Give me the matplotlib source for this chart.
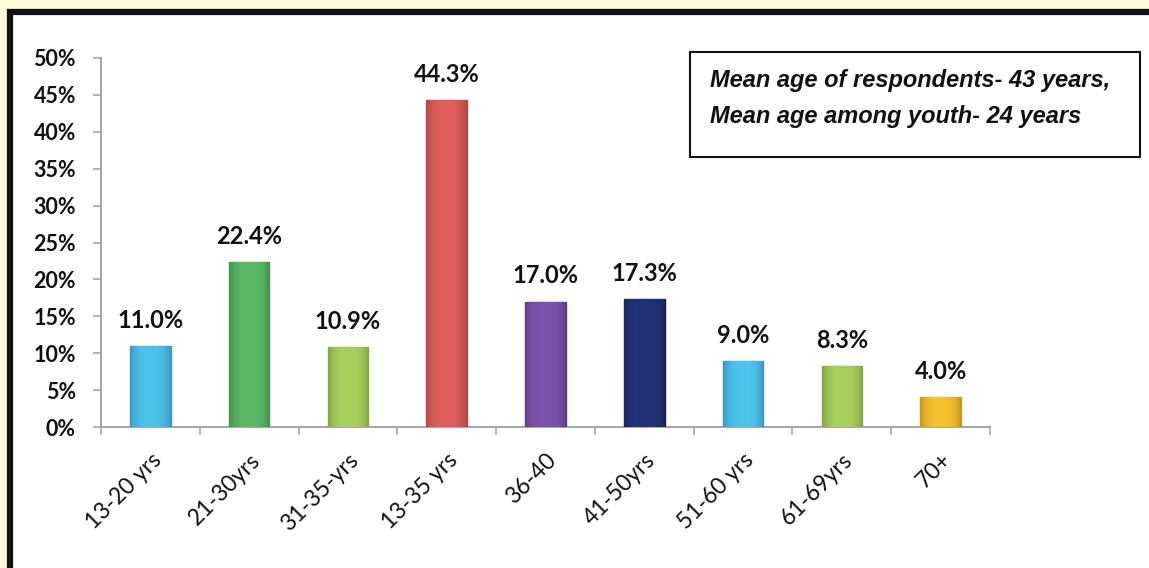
import matplotlib
matplotlib.use("Agg")
import matplotlib.pyplot as plt
from matplotlib.patches import Rectangle
from matplotlib.colors import to_rgb
import numpy as np

categories = ["13-20 yrs", "21-30yrs", "31-35-yrs", "13-35 yrs", "36-40",
              "41-50yrs", "51-60 yrs", "61-69yrs", "70+"]
values = [11.0, 22.4, 10.9, 44.3, 17.0, 17.3, 9.0, 8.3, 4.0]
colors = ["#4EC3EE", "#5BB865", "#A8D15C", "#E05E5C", "#7A53AC",
          "#233278", "#4EC3EE", "#A8D15C", "#F8C12E"]
edge_colors = ["#2A9CC8", "#3D9548", "#84AE3A", "#B8403F", "#5A3A88",
               "#131C4C", "#2A9CC8", "#84AE3A", "#D49E10"]
yticks = [0, 5, 10, 15, 20, 25, 30, 35, 40, 45, 50]
note_lines = ["Mean age of respondents- 43 years,", "Mean age among youth- 24 years"]

fig = plt.figure(figsize=(11.49, 5.68), dpi=100)
fig.patch.set_facecolor("#FEF9DA")

# white panel with black border (top/left visible)
panel = Rectangle((10 / 1149, -0.05), 1.2, 1 - 12 / 568 + 0.05, transform=fig.transFigure,
                  facecolor="white", edgecolor="#111111", linewidth=4.5, zorder=-5)
fig.patches.append(panel)

ax = fig.add_axes([101 / 1149, 1 - 427 / 568, (990 - 101) / 1149, (427 - 58) / 568])
ax.set_zorder(2)
ax.set_facecolor("none")
x = np.arange(len(categories))
bars = ax.bar(x, values, width=0.41, color=colors, edgecolor=edge_colors, linewidth=1.0, zorder=3)

# subtle horizontal shading inside each bar (darker at the sides)
prof = np.linspace(-1, 1, 64)
shade = 1 - 0.22 * np.abs(prof) ** 3
for b, c in zip(bars, colors):
    rgb = np.array(to_rgb(c))
    img = np.clip(shade[None, :, None] * rgb[None, None, :], 0, 1)
    x0, w, h = b.get_x(), b.get_width(), b.get_height()
    im = ax.imshow(img, extent=[x0, x0 + w, 0, h], aspect="auto", zorder=3.5,
                   interpolation="bilinear")
    im.set_clip_path(b)

for xi, v in zip(x, values):
    ax.annotate(f"{v:.1f}%", (xi, v), xytext=(0, 13), textcoords="offset points",
                ha="center", va="baseline", fontsize=17, fontweight="bold",
                family="Lato", color="#111111")

ax.set_xlim(-0.5, len(categories) - 0.5)
ax.set_ylim(0, 50)
ax.set_yticks(yticks)
ax.set_yticklabels([f"{t}%" for t in yticks], fontsize=15.5, fontweight="bold",
                   family="Lato", color="#111111")
ax.set_xticks(x)
ax.set_xticklabels(categories, rotation=45, ha="right", rotation_mode="anchor",
                   fontsize=16.5, family="Lato", color="#111111")
ax.tick_params(axis="x", length=0, pad=16)
ax.set_xticks(np.arange(-0.5, len(categories)), minor=True)
ax.tick_params(axis="x", which="minor", length=6, color="#A8A8A8", width=1.2)
ax.tick_params(axis="y", length=6, color="#A8A8A8", width=1.2, pad=12)

for s in ["top", "right"]:
    ax.spines[s].set_visible(False)
for s in ["left", "bottom"]:
    ax.spines[s].set_color("#A8A8A8")
    ax.spines[s].set_linewidth(1.5)

# note box
box = Rectangle((690 / 1149, 1 - 157 / 568), (1140 - 690) / 1149, (157 - 52) / 568,
                transform=fig.transFigure, facecolor="white", edgecolor="#111111",
                linewidth=1.5, zorder=5)
fig.patches.append(box)
fig.text(710 / 1149, 1 - 81 / 568, note_lines[0], fontsize=17, fontweight="bold",
         style="italic", family="Liberation Sans", va="center", ha="left", color="#111111", zorder=6)
fig.text(710 / 1149, 1 - 117 / 568, note_lines[1], fontsize=17, fontweight="bold",
         style="italic", family="Liberation Sans", va="center", ha="left", color="#111111", zorder=6)

fig.savefig("out.png", dpi=100, facecolor=fig.get_facecolor())
